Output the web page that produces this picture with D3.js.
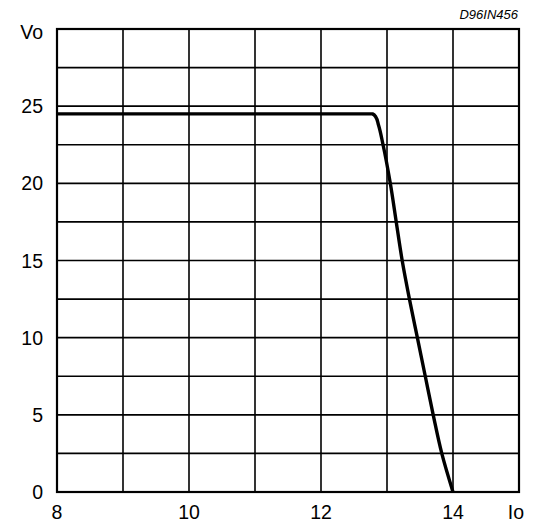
<!DOCTYPE html>
<html>
<head>
<meta charset="utf-8">
<script src="https://cdn.jsdelivr.net/npm/d3@7"></script>
<style>
  body { margin: 0; background: #fff; }
  svg { font-family: "Liberation Sans", Arial, sans-serif; }
</style>
</head>
<body>
<div id="chart"></div>
<script>
// curve: Io (A) vs Vo (V)
const io = [8, 12.78, 12.83, 12.87, 12.94, 13.05, 13.14, 13.23, 13.34, 13.46, 13.58, 13.70, 13.83, 14.0];
const vo = [24.5, 24.5, 24.3, 23.8, 22.5, 20, 17.5, 15, 12.5, 10, 7.5, 5, 2.5, 0];

const xTicks = [8, 10, 12, 14];
const yTicks = [0, 5, 10, 15, 20, 25];
const xGrid = [8, 9, 10, 11, 12, 13, 14, 15];
const yGrid = [0, 2.5, 5, 7.5, 10, 12.5, 15, 17.5, 20, 22.5, 25, 27.5, 30];

const width = 535,
      height = 524,
      margin = ({ top: 29, right: 16, bottom: 32, left: 57 });

const data = io.map((d, i) => ({ x: d, y: vo[i] }));

let svg = d3.select("#chart")
    .append("svg")
    .attr("width", width)
    .attr("height", height);

let x = d3.scaleLinear()
    .domain([8, 15])
    .range([margin.left, width - margin.right]);

let y = d3.scaleLinear()
    .domain([0, 30])
    .range([height - margin.bottom, margin.top]);

// grid
svg.append("g")
    .selectAll("line")
    .data(xGrid)
    .join("line")
    .attr("x1", d => x(d)).attr("x2", d => x(d))
    .attr("y1", y(0)).attr("y2", y(30))
    .attr("stroke", "#000")
    .attr("stroke-width", 1.6);

svg.append("g")
    .selectAll("line")
    .data(yGrid)
    .join("line")
    .attr("x1", x(8)).attr("x2", x(15))
    .attr("y1", d => y(d)).attr("y2", d => y(d))
    .attr("stroke", "#000")
    .attr("stroke-width", 1.6);

// frame
svg.append("rect")
    .attr("x", x(8)).attr("y", y(30))
    .attr("width", x(15) - x(8))
    .attr("height", y(0) - y(30))
    .attr("fill", "none")
    .attr("stroke", "#000")
    .attr("stroke-width", 2.2);

// tick labels
svg.append("g")
    .selectAll("text")
    .data(yTicks)
    .join("text")
    .text(d => d)
    .attr("x", 43)
    .attr("y", d => y(d))
    .attr("text-anchor", "end")
    .attr("dominant-baseline", "central")
    .style("font-size", "19.5px");

svg.append("g")
    .selectAll("text")
    .data(xTicks)
    .join("text")
    .text(d => d)
    .attr("x", d => x(d))
    .attr("y", height - margin.bottom + 20)
    .attr("text-anchor", "middle")
    .attr("dominant-baseline", "central")
    .style("font-size", "19.5px");

svg.append("text")
    .text("Vo")
    .attr("x", 43).attr("y", y(30) + 3)
    .attr("text-anchor", "end")
    .attr("dominant-baseline", "central")
    .style("font-size", "19.5px");

svg.append("text")
    .text("Io")
    .attr("x", 516).attr("y", height - margin.bottom + 20)
    .attr("text-anchor", "middle")
    .attr("dominant-baseline", "central")
    .style("font-size", "19.5px");

svg.append("text")
    .text("D96IN456")
    .attr("x", x(15) - 1).attr("y", 19)
    .attr("text-anchor", "end")
    .style("font-size", "13px")
    .style("font-style", "italic");

// curve
svg.append("path")
    .datum(data)
    .attr("fill", "none")
    .attr("stroke", "#000")
    .attr("stroke-width", 3.4)
    .attr("stroke-linejoin", "round")
    .attr("d", d3.line().x(d => x(d.x)).y(d => y(d.y)).curve(d3.curveMonotoneY));
</script>
</body>
</html>
